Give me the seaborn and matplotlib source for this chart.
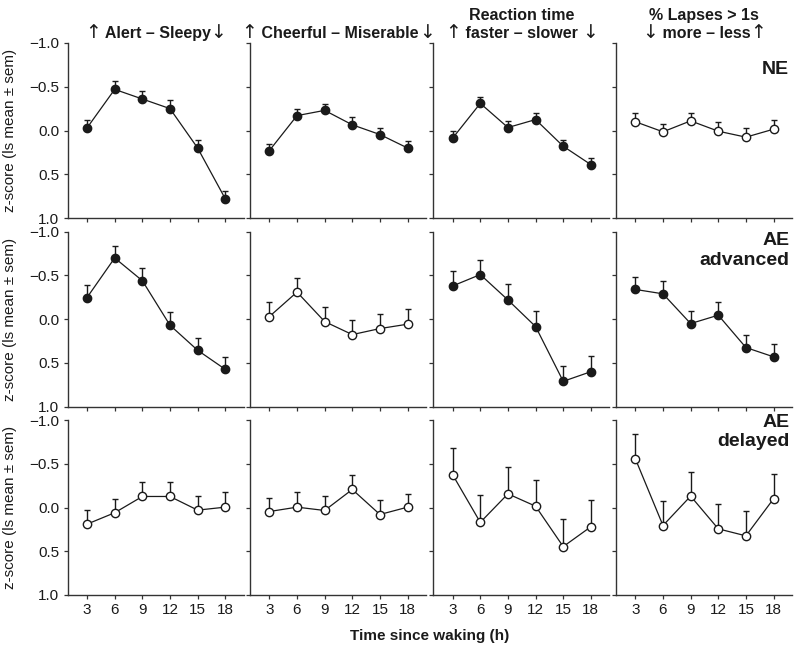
import numpy as np
import pandas as pd
import matplotlib
matplotlib.use("Agg")
import matplotlib.pyplot as plt
import seaborn as sns
from matplotlib.offsetbox import TextArea, HPacker, VPacker, AnchoredOffsetbox

hours = [3, 6, 9, 12, 15, 18]
# Title lines as pieces: "A" = arrow glyph, "T" = text
titles = [
    [[("A", "↑"), ("T", " Alert – Sleepy"), ("A", "↓")]],
    [[("A", "↑"), ("T", " Cheerful – Miserable"), ("A", "↓")]],
    [[("T", "Reaction time")],
     [("A", "↑"), ("T", " faster – slower "), ("A", "↓")]],
    [[("T", "% Lapses > 1s")],
     [("A", "↓"), ("T", " more – less"), ("A", "↑")]],
]
groups = ["NE", "AE\nadvanced", "AE\ndelayed"]
ytick_vals = [-1.0, -0.5, 0.0, 0.5, 1.0]
ytick_labels = ["−1.0", "−0.5", "0.0", "0.5", "1.0"]

# NE
ne_alert = [-0.03, -0.47, -0.36, -0.25, 0.20, 0.78]
ne_alert_sem = [0.087, 0.095, 0.087, 0.095, 0.087, 0.084]
ne_cheer = [0.23, -0.17, -0.23, -0.065, 0.046, 0.20]
ne_cheer_sem = [0.076, 0.080, 0.076, 0.084, 0.080, 0.080]
ne_rt = [0.087, -0.31, -0.034, -0.125, 0.18, 0.39]
ne_rt_sem = [0.076, 0.072, 0.076, 0.076, 0.076, 0.076]
ne_lapse = [-0.10, 0.015, -0.11, 0.008, 0.076, -0.015]
ne_lapse_sem = [0.095, 0.095, 0.095, 0.100, 0.100, 0.100]
ne_filled = [True, True, True, False]

# AE advanced
adv_alert = [-0.248, -0.70, -0.44, 0.069, 0.355, 0.573]
adv_alert_sem = [0.145, 0.140, 0.145, 0.153, 0.145, 0.145]
adv_cheer = [-0.03, -0.31, 0.027, 0.176, 0.107, 0.057]
adv_cheer_sem = [0.170, 0.160, 0.164, 0.168, 0.168, 0.168]
adv_rt = [-0.38, -0.51, -0.22, 0.084, 0.71, 0.60]
adv_rt_sem = [0.176, 0.170, 0.180, 0.180, 0.176, 0.176]
adv_lapse = [-0.34, -0.29, 0.05, -0.046, 0.324, 0.43]
adv_lapse_sem = [0.137, 0.141, 0.149, 0.145, 0.141, 0.141]
adv_filled = [True, False, True, True]

# AE delayed
del_alert = [0.19, 0.06, -0.126, -0.126, 0.03, -0.004]
del_alert_sem = [0.164, 0.160, 0.164, 0.164, 0.160, 0.168]
del_cheer = [0.046, -0.004, 0.034, -0.206, 0.08, -0.004]
del_cheer_sem = [0.160, 0.168, 0.164, 0.160, 0.164, 0.156]
del_rt = [-0.374, 0.17, -0.156, -0.015, 0.447, 0.22]
del_rt_sem = [0.310, 0.310, 0.310, 0.305, 0.310, 0.310]
del_lapse = [-0.557, 0.206, -0.13, 0.244, 0.324, -0.10]
del_lapse_sem = [0.280, 0.280, 0.280, 0.280, 0.280, 0.280]
del_filled = [False, False, False, False]

rows = [
    ([ne_alert, ne_cheer, ne_rt, ne_lapse],
     [ne_alert_sem, ne_cheer_sem, ne_rt_sem, ne_lapse_sem], ne_filled),
    ([adv_alert, adv_cheer, adv_rt, adv_lapse],
     [adv_alert_sem, adv_cheer_sem, adv_rt_sem, adv_lapse_sem], adv_filled),
    ([del_alert, del_cheer, del_rt, del_lapse],
     [del_alert_sem, del_cheer_sem, del_rt_sem, del_lapse_sem], del_filled),
]

sns.set_style("ticks")
plt.rcParams['font.family'] = ['Liberation Sans', 'DejaVu Sans']
plt.rcParams['axes.unicode_minus'] = True

ink = "#1a1a1a"
fig = plt.figure(figsize=(8.0, 6.51), dpi=100)

col_left = [67.7, 250.0, 433.3, 616.0]
ax_w = 176.0
row_top = [43.0, 231.7, 420.0]
ax_h = 175.0
W, H = 800.0, 651.0

group_text_y = [0.895, 0.998, 1.035]

txt_props = dict(fontfamily=["Liberation Sans", "DejaVu Sans"], fontsize=11.5,
                 fontweight="bold", color=ink)
arrow_props = dict(fontfamily=["DejaVu Sans"], fontsize=13.5,
                   fontweight="normal", color=ink)


def make_title(ax, lines):
    line_boxes = []
    for line in lines:
        kids = []
        for kind, s in line:
            props = arrow_props if kind == "A" else txt_props
            kids.append(TextArea(s, textprops=props))
        line_boxes.append(HPacker(children=kids, align="baseline", pad=0, sep=0))
    box = VPacker(children=line_boxes, align="center", pad=0, sep=0)
    anch = AnchoredOffsetbox(loc="lower center", child=box, pad=0, borderpad=0,
                             frameon=False, bbox_to_anchor=(0.5, 1.008),
                             bbox_transform=ax.transAxes)
    ax.add_artist(anch)


for r, (vals, sems, filled) in enumerate(rows):
    for c in range(4):
        ax = fig.add_axes([col_left[c] / W, 1 - (row_top[r] + ax_h) / H, ax_w / W, ax_h / H])
        df = pd.DataFrame({"hour": hours, "z": vals[c]})
        err = np.array(sems[c])
        ax.errorbar(hours, vals[c], yerr=[err, np.zeros_like(err)], fmt="none",
                    ecolor=ink, elinewidth=1.0, capsize=2.3, capthick=1.0, zorder=2)
        sns.lineplot(data=df, x="hour", y="z", ax=ax, color=ink, linewidth=0.9,
                     marker="o", markersize=6, markeredgewidth=1.0,
                     markeredgecolor=ink,
                     markerfacecolor=ink if filled[c] else "white", zorder=3)
        ax.set_xlim(0.9, 20.0)
        ax.set_ylim(1.0, -1.0)
        ax.set_xticks(hours)
        ax.set_yticks(ytick_vals)
        for s in ["top", "right"]:
            ax.spines[s].set_visible(False)
        for s in ["left", "bottom"]:
            ax.spines[s].set_color("#333333")
            ax.spines[s].set_linewidth(1.0)
        ax.tick_params(axis="both", length=3, width=0.9, color="#333333",
                       labelsize=11, labelcolor=ink, pad=3)
        if c == 0:
            ax.set_yticklabels(ytick_labels)
            ax.set_ylabel("z-score (ls mean ± sem)", fontsize=11, color=ink)
            ax.yaxis.set_label_coords(-0.29, 0.5)
        else:
            ax.set_yticklabels([])
            ax.set_ylabel("")
        if r == 2:
            ax.set_xticklabels([str(h) for h in hours])
        else:
            ax.set_xticklabels([])
        ax.set_xlabel("")
        if r == 0:
            make_title(ax, titles[c])
        if c == 3:
            ax.text(0.985, group_text_y[r], groups[r], transform=ax.transAxes,
                    ha="right", va="top", fontsize=14, fontweight="bold",
                    color=ink, linespacing=1.2)

fig.text(430 / W, 1 - 636 / H, "Time since waking (h)", ha="center", va="center",
         fontsize=11, fontweight="bold", color=ink)

fig.savefig("out.png", dpi=100)
